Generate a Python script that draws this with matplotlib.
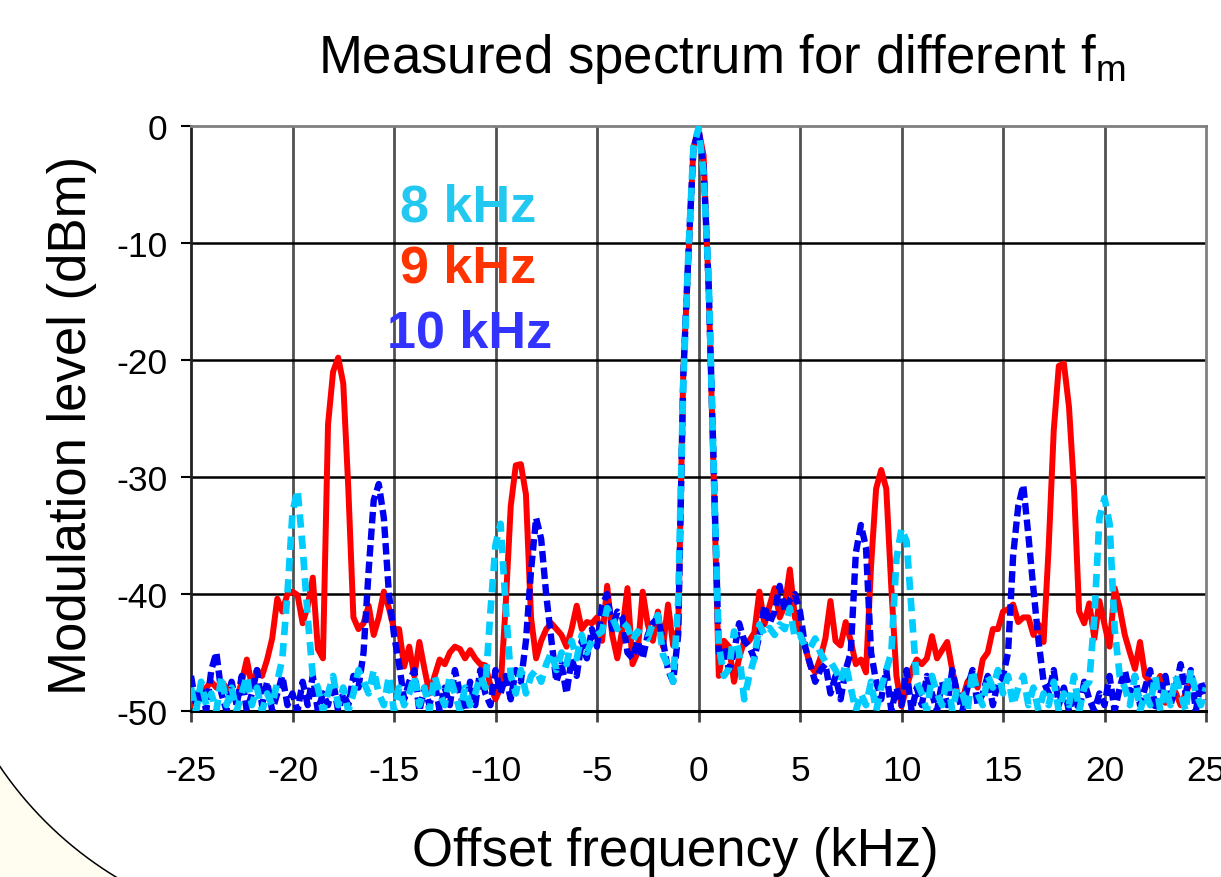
import numpy as np
import matplotlib
matplotlib.use("Agg")
import matplotlib.pyplot as plt
from matplotlib import font_manager
from matplotlib.patches import Polygon
from matplotlib.lines import Line2D

# ---------------- data ----------------
freq_start, freq_stop, freq_step = -25.0, 25.0, 0.25   # offset frequency grid (kHz)

level_9khz = [
    -49.5, -48.5, -49.0, -48.0, -47.5, -48.0, -47.5, -48.0, -48.5, -49.0,
    -47.5, -45.6, -47.9, -46.5, -47.0, -45.6, -43.8, -40.4, -41.5, -40.0,
    -39.8, -40.1, -42.5, -41.0, -38.6, -44.7, -45.5, -25.5, -21.0, -19.8,
    -22.0, -31.0, -42.0, -43.0, -42.5, -41.0, -43.5, -42.0, -39.8, -41.2,
    -43.0, -43.0, -46.2, -44.5, -47.0, -44.1, -46.4, -48.5, -47.0, -45.6,
    -46.0, -45.0, -44.5, -44.7, -45.5, -44.8, -45.5, -46.0, -46.1, -47.8,
    -49.0, -48.0, -41.0, -32.5, -29.0, -28.9, -31.5, -42.0, -45.5, -44.0,
    -43.0, -42.5, -43.0, -43.5, -44.5, -43.0, -41.0, -43.0, -42.4, -42.5,
    -42.0, -44.0, -39.3, -43.5, -45.5, -43.0, -39.5, -46.0, -45.0, -39.8,
    -42.6, -44.0, -41.5, -44.5, -40.9, -44.4, -43.0, -21.0, -11.5, -1.8,
    -0.3, -2.5, -14.0, -30.0, -47.0, -44.0, -44.5, -47.5, -45.5, -44.0,
    -44.0, -43.3, -39.8, -42.6, -41.0, -39.5, -42.0, -41.0, -37.9, -42.0,
    -43.2, -44.5, -46.1, -46.7, -45.5, -43.8, -40.6, -44.0, -44.4, -42.4,
    -44.0, -46.0, -45.6, -46.7, -37.6, -31.0, -29.4, -31.0, -39.5, -47.0,
    -49.6, -48.0, -46.5, -45.6, -46.0, -45.5, -43.6, -45.5, -44.8, -44.1,
    -46.5, -48.5, -49.0, -47.5, -47.0, -48.0, -45.6, -45.0, -43.0, -43.0,
    -41.5, -41.3, -40.9, -42.4, -42.0, -42.0, -43.5, -42.6, -44.1, -36.0,
    -26.0, -20.5, -20.3, -24.0, -31.0, -41.5, -42.5, -40.8, -43.8, -40.6,
    -42.6, -44.5, -39.5, -41.2, -43.5, -45.0, -46.4, -44.1, -47.0, -47.5,
    -47.8, -47.0, -49.3, -48.5, -48.4, -49.5, -48.5, -47.5, -48.0, -48.4,
    -48.0,
]

level_10khz = [
    -47.0, -49.5, -48.0, -50.0, -46.5, -45.0, -48.5, -50.0, -47.5, -49.5,
    -47.0, -50.0, -48.5, -46.5, -49.5, -47.5, -50.0, -48.5, -47.0, -49.5,
    -48.5, -50.0, -47.5, -49.5, -47.0, -50.0, -48.5, -49.5, -47.5, -50.0,
    -48.5, -49.5, -47.0, -48.0, -45.0, -38.0, -32.0, -30.6, -33.5, -40.0,
    -43.5, -46.0, -49.0, -47.5, -46.5, -50.0, -48.0, -49.5, -47.5, -50.0,
    -48.0, -49.5, -46.5, -48.5, -50.0, -47.5, -49.5, -46.5, -48.5, -49.5,
    -46.5, -48.5, -47.0, -49.0, -46.5, -47.5, -44.0, -38.0, -33.5, -35.3,
    -40.1, -43.9, -47.5, -46.0, -48.5, -45.5, -47.0, -44.0, -45.5, -43.0,
    -44.5, -41.0, -40.0, -43.0, -41.5, -42.0, -45.0, -45.5, -44.0, -45.5,
    -43.5, -42.5, -42.0, -44.0, -46.5, -47.5, -43.5, -21.5, -11.0, -2.0,
    -0.3, -3.5, -13.5, -29.0, -45.0, -44.5, -46.5, -45.0, -42.5, -44.0,
    -44.5, -45.5, -43.5, -41.0, -42.5, -41.5, -39.3, -41.5, -40.5, -40.0,
    -41.5, -44.5, -46.0, -47.5, -46.5, -46.0, -48.5, -47.0, -49.0, -46.5,
    -45.0, -36.5, -34.1, -36.0, -45.0, -47.5, -49.0, -46.5, -50.0, -48.0,
    -49.5, -46.5, -50.0, -48.0, -49.5, -47.0, -48.5, -50.0, -47.5, -49.5,
    -46.5, -48.5, -50.0, -48.0, -46.5, -49.5, -48.5, -47.0, -49.5, -47.5,
    -47.0, -45.0, -36.7, -32.5, -30.7, -35.0, -39.6, -44.0, -47.5, -48.5,
    -46.5, -49.5, -48.0, -50.0, -48.5, -50.0, -47.5, -49.0, -50.0, -48.5,
    -49.5, -47.0, -50.0, -48.0, -46.5, -48.5, -47.0, -49.5, -48.0, -46.5,
    -50.0, -48.5, -47.0, -49.5, -48.0, -46.0, -48.5, -46.5, -50.0, -47.5,
    -49.0,
]

level_8khz = [
    -48.0, -50.0, -47.5, -49.5, -48.5, -50.0, -47.0, -49.5, -48.0, -50.0,
    -48.5, -47.0, -49.5, -48.0, -50.0, -48.5, -49.5, -47.5, -45.5, -40.0,
    -33.0, -31.1, -36.0, -42.0, -47.0, -48.0, -50.0, -48.5, -47.0, -49.5,
    -48.0, -50.0, -48.5, -46.5, -47.5, -48.5, -46.5, -48.5, -49.5, -47.0,
    -50.0, -48.0, -49.5, -48.5, -47.0, -49.5, -48.0, -50.0, -47.0, -48.5,
    -49.5, -47.0, -48.5, -50.0, -48.0, -49.5, -48.5, -47.0, -48.0, -41.5,
    -35.8, -34.0, -41.0, -47.0, -48.5, -46.5, -48.5, -47.0, -46.5, -47.5,
    -46.0, -45.0, -46.5, -45.0, -46.0, -44.0, -45.5, -43.5, -45.0, -44.0,
    -43.5, -43.2, -41.2, -42.0, -43.0, -42.4, -42.8, -44.0, -43.2, -43.5,
    -43.8, -42.5, -41.8, -45.2, -46.1, -47.5, -40.6, -22.0, -11.0, -1.8,
    -0.2, -4.0, -13.0, -29.5, -44.4, -47.0, -46.4, -43.2, -45.0, -49.0,
    -47.0, -45.5, -42.6, -43.5, -42.9, -43.5, -42.6, -43.0, -41.2, -43.8,
    -43.5, -44.5, -44.6, -43.8, -45.0, -45.8, -45.8, -46.5, -47.5, -46.0,
    -48.0, -50.0, -48.5, -49.5, -47.5, -50.0, -48.0, -46.5, -45.0, -37.0,
    -34.4, -35.5, -41.5, -47.5, -48.5, -50.0, -47.0, -48.5, -49.5, -47.0,
    -50.0, -48.0, -48.5, -50.0, -46.5, -48.5, -49.5, -47.0, -48.0, -46.5,
    -48.5, -47.0, -49.5, -48.0, -47.0, -49.5, -48.0, -50.0, -48.5, -49.5,
    -47.5, -50.0, -48.5, -49.5, -47.0, -50.0, -48.0, -47.5, -42.0, -33.5,
    -31.8, -34.0, -43.0, -47.0, -48.0, -49.5, -47.0, -50.0, -48.5, -49.5,
    -47.0, -50.0, -48.0, -49.5, -47.0, -48.5, -50.0, -46.5, -48.5, -49.5,
    -48.0,
]

series_labels = ["8 kHz", "9 kHz", "10 kHz"]
x_ticks = [-25, -20, -15, -10, -5, 0, 5, 10, 15, 20, 25]
y_ticks = [-50, -40, -30, -20, -10, 0]
title_text = r"Measured spectrum for different f$_\mathregular{m}$"
x_label = "Offset frequency (kHz)"
y_label = "Modulation level (dBm)"

freq = np.arange(freq_start, freq_stop + freq_step / 2, freq_step)

# ---------------- fonts ----------------
names = {f.name for f in font_manager.fontManager.ttflist}
if "Liberation Sans Narrow" in names:
    tick_family, tick_size = ["Liberation Sans Narrow", "DejaVu Sans"], 28
else:
    tick_family, tick_size = ["Liberation Sans", "DejaVu Sans"], 25.5
main_family = ["Liberation Sans", "DejaVu Sans"]
plt.rcParams["font.family"] = main_family
plt.rcParams["mathtext.fontset"] = "custom"

# ---------------- figure ----------------
W, H = 1221, 878
fig = plt.figure(figsize=(W / 100, H / 100), dpi=100)
fig.patch.set_facecolor("white")

# slide decoration (bottom-left arc)
cx, cy, r = 312.0, 556.0, 377.0
th = np.radians(np.linspace(118.0, 149.0, 200))
ax_px = cx + r * np.cos(th)
ay_px = cy + r * np.sin(th)
pts = [(px / W, 1 - py / H) for px, py in zip(ax_px, ay_px)]
poly = Polygon(pts + [(-0.05, -0.05)], closed=True, transform=fig.transFigure,
               facecolor="#FFFDF0", edgecolor="none", zorder=0)
fig.add_artist(poly)
fig.add_artist(Line2D([p[0] for p in pts], [p[1] for p in pts], transform=fig.transFigure,
                      color="black", lw=1.1, zorder=1))

left, right = 191 / W, 1206 / W
bottom, top = 1 - 712 / H, 1 - 127 / H
ax = fig.add_axes([left, bottom, right - left, top - bottom])
ax.set_facecolor("white")

ax.plot(freq, level_9khz, color="#FF0000", lw=4.3, solid_joinstyle="round",
        solid_capstyle="round", zorder=3)
ax.plot(freq, level_10khz, color="#0000F0", lw=4.6, dashes=(1.8, 0.8), zorder=4)
ax.plot(freq, level_8khz, color="#00CCFF", lw=4.8, dashes=(2.0, 1.2), zorder=5)

ax.set_xlim(x_ticks[0], x_ticks[-1])
ax.set_ylim(y_ticks[0], y_ticks[-1])
ax.set_xticks(x_ticks)
ax.set_yticks(y_ticks)
ax.set_xticklabels([str(v) for v in x_ticks], fontfamily=tick_family, fontsize=tick_size)
ax.set_yticklabels([str(v) for v in y_ticks], fontfamily=tick_family, fontsize=tick_size)
ax.tick_params(axis="x", direction="out", length=8, width=2, color="#444444", pad=23)
ax.tick_params(axis="y", direction="out", length=7, width=1.5, color="black", pad=10)

for v in x_ticks[1:-1]:
    ax.axvline(v, color="#505050", lw=2.0, zorder=1.5)
for v in y_ticks[1:-1]:
    ax.axhline(v, color="black", lw=1.8, zorder=1.5)

ax.spines["left"].set_color("#222222")
ax.spines["left"].set_linewidth(2)
ax.spines["bottom"].set_color("black")
ax.spines["bottom"].set_linewidth(2.2)
for s in ("top", "right"):
    ax.spines[s].set_color("#808080")
    ax.spines[s].set_linewidth(2)

# titles / labels
fig.text(722 / W, 1 - 59 / H, title_text, ha="center", va="center", fontsize=38,
         family=main_family)
fig.text(675 / W, 1 - 866 / H, x_label, ha="center", va="baseline", fontsize=38,
         family=main_family)
fig.text(72 / W, 1 - 425 / H, y_label, ha="center", va="center", rotation=90,
         fontsize=38, family=main_family)

# inline legend
leg_colors = ["#22C8F0", "#FF3300", "#3333FF"]
leg_x = [468.5, 468.5, 470.0]
leg_base = [222, 283, 348]
for lab, c, lx, ly in zip(series_labels, leg_colors, leg_x, leg_base):
    fig.text(lx / W, 1 - ly / H, lab, color=c, ha="center", va="baseline",
             fontsize=37.5, fontweight="bold", family=main_family)

fig.savefig("out.png", dpi=100, facecolor="white")
